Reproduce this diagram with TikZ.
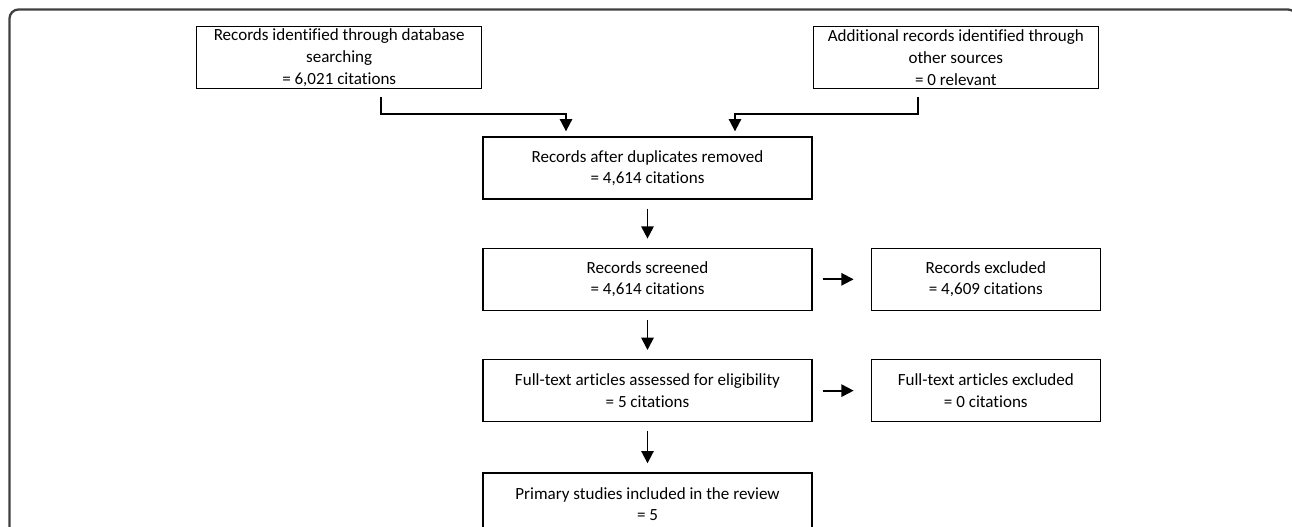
\documentclass[tikz,border=0pt]{standalone}
\usepackage{fontspec}
\setmainfont{Carlito}[Ligatures={NoCommon,NoContextual}]
\usetikzlibrary{positioning,arrows.meta}

\begin{document}
\begin{tikzpicture}[node distance=0.96cm, arrow/.style={-{Triangle[length=7pt,width=7pt]}, line width=1.1pt}, stepbox/.style={rectangle, draw, line width=0.75pt, align=center, inner sep=0pt, minimum height=1.24cm, font=\fontsize{9.7}{12.3}\selectfont}, mainbox/.style={stepbox, minimum width=6.58cm}, sidebox/.style={stepbox, minimum width=4.58cm}, topbox/.style={stepbox, minimum width=5.7cm}, frame/.style={draw=black!75, line width=1.3pt, rounded corners=0.18cm}]
        
        \useasboundingbox (0,0) rectangle (25.84,-10.54);
        \clip (0,0) rectangle (25.84,-10.54);
        \draw[frame] (0.19,-0.19) rectangle (25.94,-11);
        
        \node [mainbox] (dedup) at (12.95,-3.36) {Records after duplicates removed\\= 4,614 citations};
        \node [topbox, above left = 0.94cm and 0cm of dedup] (dbsearch) {Records identified through database\\searching\\= 6,021 citations};
        \node [topbox, above right = 0.94cm and 0cm of dedup] (othersrc) {Additional records identified through\\other sources\\= 0 relevant};
        \node [mainbox, below = of dedup] (screen) {Records screened\\= 4,614 citations};
        \node [sidebox, right = 1.16cm of screen] (excl) {Records excluded\\= 4,609 citations};
        \node [mainbox, below = of screen] (fulltext) {Full-text articles assessed for eligibility\\= 5 citations};
        \node [sidebox, right = 1.16cm of fulltext] (ftexcl) {Full-text articles excluded\\= 0 citations};
        \node [mainbox, below = 1cm of fulltext] (included) {Primary studies included in the review\\= 5};
        
        \draw[arrow] ([xshift=0.83cm,yshift=-0.16cm]dbsearch.south) |- ([xshift=-1.63cm,yshift=0.44cm]dedup.north) -- ([xshift=-1.63cm,yshift=0.1cm]dedup.north);
        \draw[arrow] ([xshift=-0.76cm,yshift=-0.16cm]othersrc.south) |- ([xshift=1.75cm,yshift=0.44cm]dedup.north) -- ([xshift=1.75cm,yshift=0.1cm]dedup.north);
        \draw[arrow, shorten <=0.18cm, shorten >=0.18cm] (dedup) -- (screen);
        \draw[arrow, shorten <=0.18cm, shorten >=0.18cm] (screen) -- (fulltext);
        \draw[arrow, shorten <=0.18cm, shorten >=0.18cm] (fulltext) -- (included);
        \draw[arrow, shorten <=0.2cm, shorten >=0.34cm] (screen) -- (excl);
        \draw[arrow, shorten <=0.2cm, shorten >=0.34cm] (fulltext) -- (ftexcl);
        
    \end{tikzpicture}
\end{document}
